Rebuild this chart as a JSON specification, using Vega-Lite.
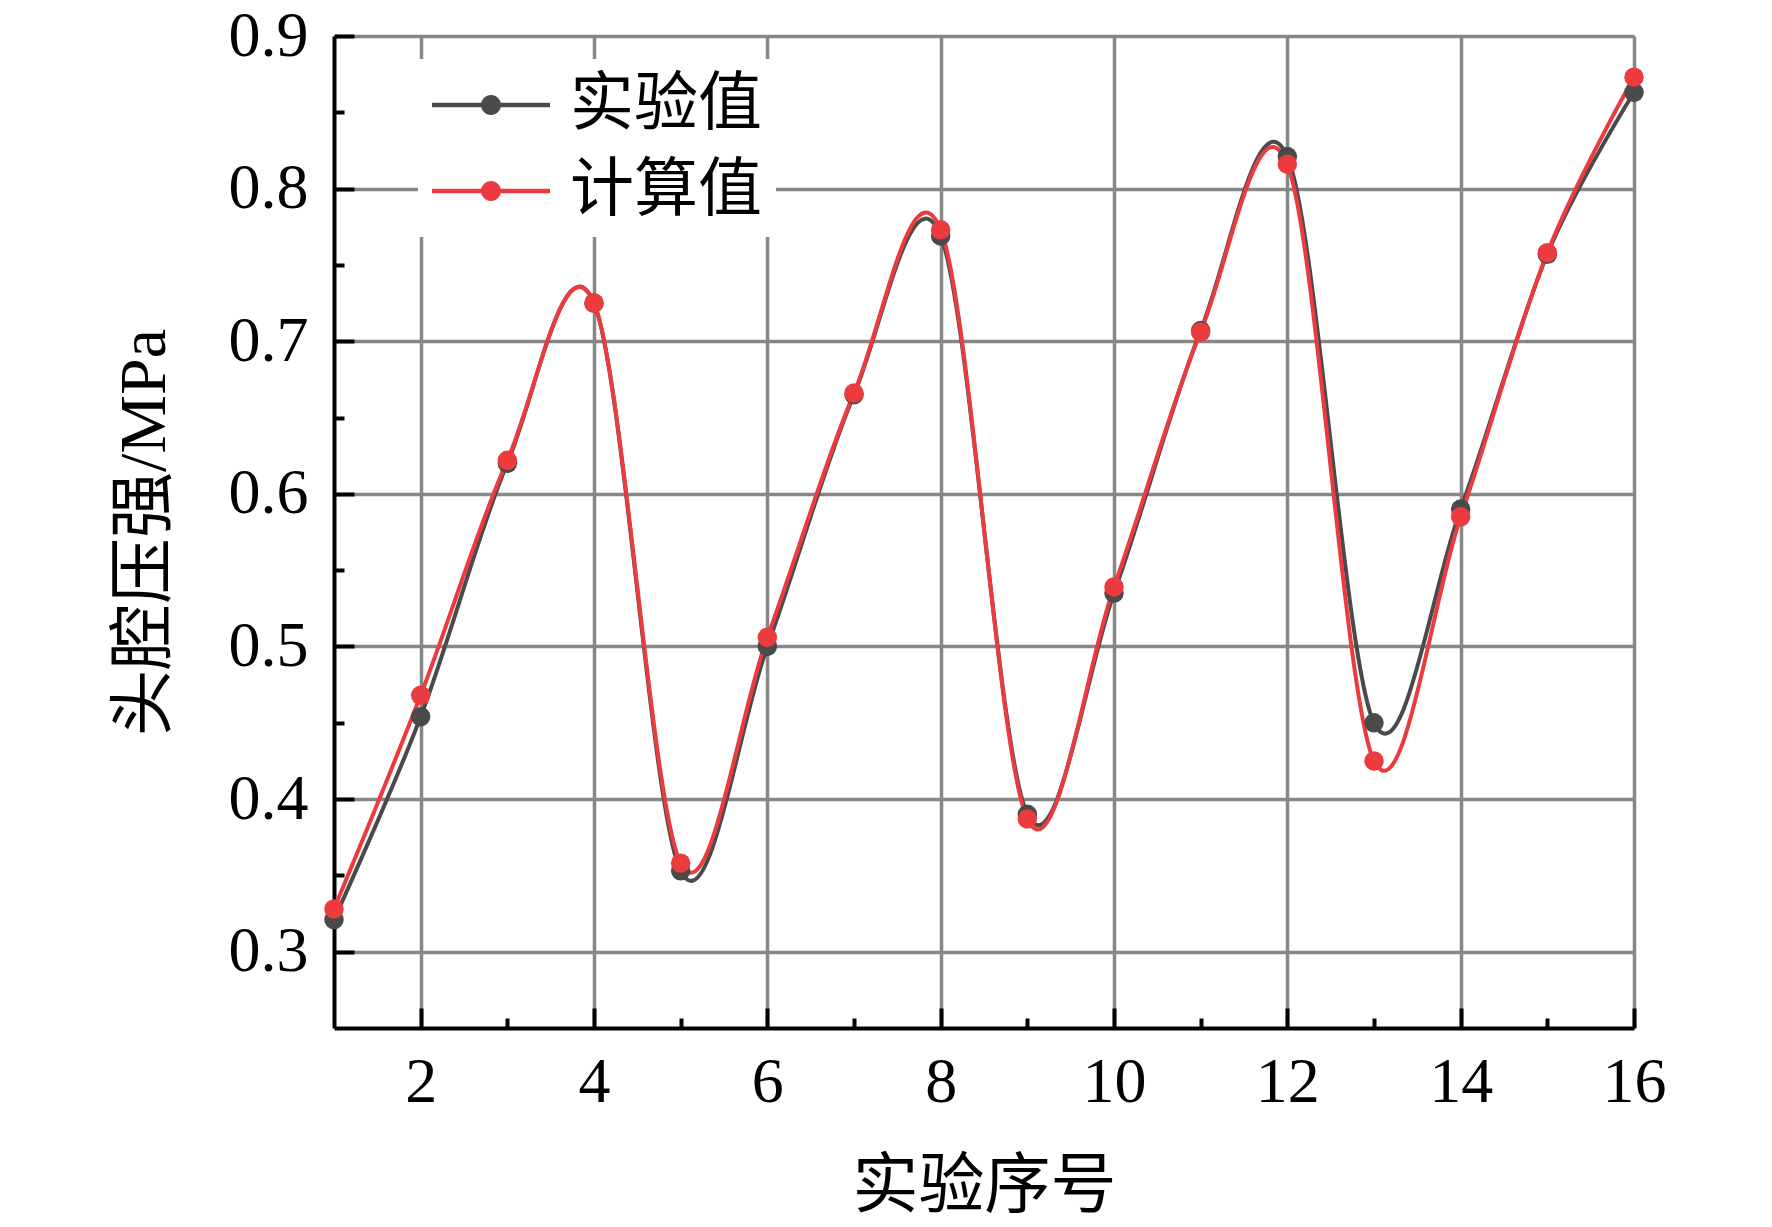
{
  "$schema": "https://vega.github.io/schema/vega-lite/v6.json",
  "autosize": {"type": "none"},
  "padding": {"left": 334, "top": 36, "right": 138, "bottom": 199},
  "width": 1300,
  "height": 992,
  "background": "white",
  "config": {
    "view": {"stroke": null},
    "font": "Liberation Serif",
    "axis": {
      "labelFont": "Liberation Serif",
      "titleFont": "Liberation Serif, Noto Sans CJK SC",
      "labelColor": "black",
      "titleColor": "black",
      "titleFontWeight": "normal",
      "labelFlush": false,
      "domainColor": "black",
      "domainWidth": 4,
      "tickColor": "black",
      "tickWidth": 4,
      "gridColor": "#878787",
      "gridWidth": 3.5,
      "gridOpacity": 1
    }
  },
  "data": {
    "values": [
      {"n": 1, "series": "实验值", "v": 0.321},
      {"n": 2, "series": "实验值", "v": 0.454},
      {"n": 3, "series": "实验值", "v": 0.620},
      {"n": 4, "series": "实验值", "v": 0.725},
      {"n": 5, "series": "实验值", "v": 0.353},
      {"n": 6, "series": "实验值", "v": 0.500},
      {"n": 7, "series": "实验值", "v": 0.665},
      {"n": 8, "series": "实验值", "v": 0.769},
      {"n": 9, "series": "实验值", "v": 0.390},
      {"n": 10, "series": "实验值", "v": 0.535},
      {"n": 11, "series": "实验值", "v": 0.707},
      {"n": 12, "series": "实验值", "v": 0.821},
      {"n": 13, "series": "实验值", "v": 0.450},
      {"n": 14, "series": "实验值", "v": 0.590},
      {"n": 15, "series": "实验值", "v": 0.757},
      {"n": 16, "series": "实验值", "v": 0.863},
      {"n": 1, "series": "计算值", "v": 0.328},
      {"n": 2, "series": "计算值", "v": 0.468},
      {"n": 3, "series": "计算值", "v": 0.622},
      {"n": 4, "series": "计算值", "v": 0.725},
      {"n": 5, "series": "计算值", "v": 0.358},
      {"n": 6, "series": "计算值", "v": 0.506},
      {"n": 7, "series": "计算值", "v": 0.666},
      {"n": 8, "series": "计算值", "v": 0.773},
      {"n": 9, "series": "计算值", "v": 0.387},
      {"n": 10, "series": "计算值", "v": 0.539},
      {"n": 11, "series": "计算值", "v": 0.706},
      {"n": 12, "series": "计算值", "v": 0.816},
      {"n": 13, "series": "计算值", "v": 0.425},
      {"n": 14, "series": "计算值", "v": 0.585},
      {"n": 15, "series": "计算值", "v": 0.758},
      {"n": 16, "series": "计算值", "v": 0.873}
    ]
  },
  "resolve": {"axis": {"x": "independent", "y": "independent"}},
  "layer": [
    {
      "mark": {"type": "line", "interpolate": "cardinal", "strokeWidth": 4},
      "encoding": {
        "x": {
          "field": "n", "type": "quantitative",
          "scale": {"domain": [1, 16], "nice": false, "zero": false},
          "axis": {
            "orient": "bottom",
            "values": [2, 4, 6, 8, 10, 12, 14, 16],
            "title": "实验序号",
            "titleFontSize": 66,
            "titlePadding": 40,
            "labelFontSize": 64,
            "labelPadding": 42,
            "tickSize": -20,
            "grid": true
          }
        },
        "y": {
          "field": "v", "type": "quantitative",
          "scale": {"domain": [0.25, 0.9], "nice": false, "zero": false},
          "axis": {
            "orient": "left",
            "values": [0.3, 0.4, 0.5, 0.6, 0.7, 0.8, 0.9],
            "format": ".1f",
            "title": "头腔压强/MPa",
            "titleFontSize": 66,
            "titlePadding": 50,
            "labelFontSize": 64,
            "labelPadding": 46,
            "tickSize": -20,
            "grid": true
          }
        },
        "color": {
          "field": "series", "type": "nominal",
          "scale": {"domain": ["实验值", "计算值"], "range": ["#4a4a4a", "#ec3b3f"]},
          "legend": {
            "orient": "none",
            "legendX": 84,
            "legendY": 23,
            "title": null,
            "fillColor": "white",
            "padding": 14,
            "symbolType": "M-2.95,-0.11L2.95,-0.11L2.95,0.11L-2.95,0.11Z M0.5,0A0.5,0.5,0,1,1,-0.5,0A0.5,0.5,0,1,1,0.5,0Z",
            "symbolSize": 1600,
            "symbolOffset": 27,
            "symbolStrokeWidth": 0,
            "labelFont": "Liberation Serif, Noto Sans CJK SC",
            "labelFontSize": 64,
            "labelLimit": 400,
            "labelColor": "black",
            "labelOffset": 47,
            "rowPadding": 22,
            "encode": {
              "symbols": {
                "update": {
                  "fill": {"scale": "color", "field": "value"},
                  "fillOpacity": {"value": 1},
                  "strokeWidth": {"value": 0}
                }
              }
            }
          }
        }
      }
    },
    {
      "mark": {"type": "point", "filled": true, "shape": "circle", "size": 380, "opacity": 1},
      "encoding": {
        "x": {"field": "n", "type": "quantitative", "axis": {
          "orient": "bottom",
          "values": [3, 5, 7, 9, 11, 13, 15],
          "labels": false, "domain": false, "grid": false, "title": null, "tickSize": -10
        }},
        "y": {"field": "v", "type": "quantitative", "axis": {
          "orient": "left",
          "values": [0.35, 0.45, 0.55, 0.65, 0.75, 0.85],
          "labels": false, "domain": false, "grid": false, "title": null, "tickSize": -10
        }},
        "color": {"field": "series", "type": "nominal", "legend": null}
      }
    }
  ]
}
